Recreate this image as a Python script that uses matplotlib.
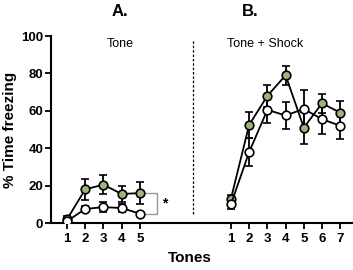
import matplotlib
matplotlib.use("Agg")
import matplotlib.pyplot as plt

plt.rcParams['font.family'] = ['Liberation Sans', 'DejaVu Sans']

# Panel A: Tone
tones_a = [1, 2, 3, 4, 5]
green_a = [2, 18, 20.5, 15.5, 16]
green_a_err = [1.5, 5.5, 5, 4.5, 6]
white_a = [1, 7.5, 8.5, 8, 5]
white_a_err = [1, 1.5, 2.5, 2, 1]

# Panel B: Tone + Shock
tones_b = [1, 2, 3, 4, 5, 6, 7]
green_b = [13, 52.5, 68, 79, 51, 64, 59]
green_b_err = [2, 7, 6, 5, 8.5, 5, 6.5]
white_b = [10, 38, 60.5, 57.5, 61, 55.5, 52]
white_b_err = [2.5, 7.5, 7, 7, 10, 8, 7]

green_col = '#9bb57a'
b_offset = 9

fig = plt.figure(figsize=(3.53, 2.70), dpi=100)
ax = fig.add_axes([51/353, 1-223/270, 1-51/353, (223-36)/270])

def plot_series(xs, ys, es, face):
    ax.errorbar(xs, ys, yerr=es, color='black', lw=1.3, elinewidth=1.3,
                capsize=2.8, capthick=1.3, marker='o', markersize=6.2,
                markerfacecolor=face, markeredgecolor='black',
                markeredgewidth=1.2, zorder=3)

xb = [t + b_offset for t in tones_b]
plot_series(tones_a, green_a, green_a_err, green_col)
plot_series(tones_a, white_a, white_a_err, 'white')
plot_series(xb, green_b, green_b_err, green_col)
plot_series(xb, white_b, white_b_err, 'white')

# significance bracket
ax.plot([5.25, 5.95, 5.95, 5.25], [green_a[-1], green_a[-1], white_a[-1], white_a[-1]],
        color='#999999', lw=1.0, zorder=2)
ax.text(6.35, 10.5, '*', fontsize=10, fontweight='bold', ha='center', va='center')

# dashed separator
ax.plot([7.92, 7.92], [5, 98], color='black', lw=0.9, ls=(0, (2, 1.5)), zorder=1)

ax.set_xlim(0.12, 16.7)
ax.set_ylim(0, 100)
ax.set_yticks([0, 20, 40, 60, 80, 100])
ax.set_xticks(tones_a + xb)
ax.set_xticklabels([str(t) for t in tones_a] + [str(t) for t in tones_b])
for s in ['top', 'right']:
    ax.spines[s].set_visible(False)
for s in ['left', 'bottom']:
    ax.spines[s].set_linewidth(1.5)
ax.tick_params(axis='both', width=1.3, length=4.5, labelsize=9.5)
ax.tick_params(axis='y', pad=1)
ax.tick_params(axis='x', pad=3)
for lbl in ax.get_xticklabels() + ax.get_yticklabels():
    lbl.set_fontweight('bold')

ax.set_ylabel('% Time freezing', fontsize=11, fontweight='bold', labelpad=3)
fig.text(190/353, 1-258/270, 'Tones', fontsize=11, fontweight='bold',
         ha='center', va='center')

ax.text(3.9, 95.5, 'Tone', fontsize=9, ha='center', va='center')
ax.text(11.9, 95.5, 'Tone + Shock', fontsize=9, ha='center', va='center')

fig.text(120/353, 1-12/270, 'A.', fontsize=12, fontweight='bold', ha='center', va='center')
fig.text(250/353, 1-12/270, 'B.', fontsize=12, fontweight='bold', ha='center', va='center')

fig.savefig('out.png', dpi=100)
